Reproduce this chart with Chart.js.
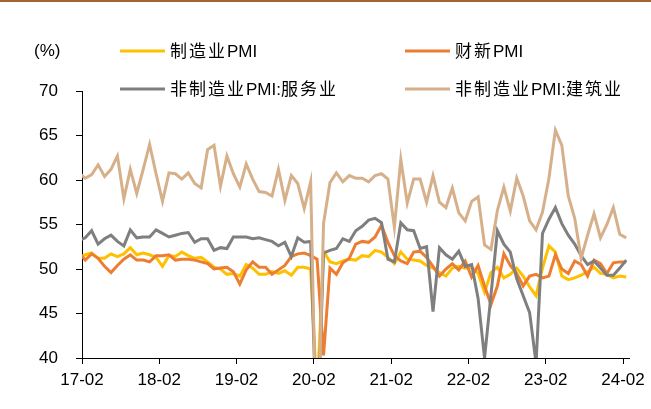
<!DOCTYPE html>
<html>
<head>
<meta charset="utf-8">
<script src="https://cdn.jsdelivr.net/npm/chart.js@4.4.1/dist/chart.umd.min.js"></script>
<style>
  html, body { margin: 0; padding: 0; background: #ffffff; }
  #wrap { position: relative; width: 651px; height: 409px; overflow: hidden; }
  #topRule { position: absolute; left: 0; top: 0; width: 651px; height: 2px; background: #A5642F; }
  canvas { position: absolute; left: 0; top: 0; }
</style>
</head>
<body>
<div id="wrap">
  <canvas id="c" width="651" height="409"></canvas>
  <div id="topRule"></div>
</div>
<script>
// Monthly readings, 2017-01 .. 2024-02 (86 months each)

// x-axis labels and their positions (months after 2017-02)
const tickLabels = ['17-02', '18-02', '19-02', '20-02', '21-02', '22-02', '23-02', '24-02'];
const tickMonths = [0, 12, 24, 36, 48, 60, 72, 84];

// 制造业PMI (NBS manufacturing)
const mfgPMI = [
  51.3, 51.6, 51.8, 51.2, 51.2, 51.7, 51.4, 51.7, 52.4, 51.6, 51.8, 51.6,
  51.3, 50.3, 51.5, 51.4, 51.9, 51.5, 51.2, 51.3, 50.8, 50.2, 50.0, 49.4,
  49.5, 49.2, 50.5, 50.1, 49.4, 49.4, 49.7, 49.5, 49.8, 49.3, 50.2, 50.2,
  50.0, 35.7, 52.0, 50.8, 50.6, 50.9, 51.1, 51.0, 51.5, 51.4, 52.1, 51.9,
  51.3, 50.6, 51.9, 51.1, 51.0, 50.9, 50.4, 50.1, 49.6, 49.2, 50.1, 50.3,
  50.1, 50.2, 49.5, 47.4, 49.6, 50.2, 49.0, 49.4, 50.1, 49.2, 48.0, 47.0,
  50.1, 52.6, 51.9, 49.2, 48.8, 49.0, 49.3, 49.7, 50.2, 49.5, 49.4, 49.0,
  49.2, 49.1
];

// 财新PMI — each reading sits on the month in which it was published
const caixinPMI = [
  51.9, 51.0, 51.7, 51.2, 50.3, 49.6, 50.4, 51.1, 51.6, 51.0, 51.0, 50.8,
  51.5, 51.5, 51.6, 51.0, 51.1, 51.1, 51.0, 50.8, 50.6, 50.0, 50.1, 50.2,
  49.7, 48.3, 49.9, 50.8, 50.2, 50.2, 49.4, 49.9, 50.4, 51.4, 51.7, 51.8,
  51.5, 51.1, 40.3, 50.1, 49.4, 50.7, 51.2, 52.8, 53.1, 53.0, 53.6, 54.9,
  53.0, 51.5, 50.9, 50.6, 51.9, 52.0, 51.3, 50.3, 49.2, 50.0, 50.6, 49.9,
  50.9, 49.1, 50.4, 48.1, 46.0, 48.1, 51.7, 50.4, 49.5, 48.1, 49.2, 49.4,
  49.0, 49.2, 51.6, 50.0, 49.5, 50.9, 50.5, 49.2, 51.0, 50.6, 49.5, 50.7,
  50.8, 50.8
];

// 非制造业PMI:服务业
const servicesPMI = [
  53.2, 53.5, 54.3, 52.8, 53.4, 53.8, 53.1, 52.6, 54.4, 53.5, 53.6, 53.6,
  54.4, 54.0, 53.6, 53.8, 54.0, 54.1, 53.0, 53.4, 53.4, 52.1, 52.4, 52.3,
  53.6, 53.6, 53.6, 53.4, 53.5, 53.3, 53.1, 52.6, 53.0, 51.4, 53.5, 53.0,
  53.1, 30.1, 51.8, 52.1, 52.3, 53.4, 53.1, 54.3, 54.8, 55.5, 55.7, 55.2,
  51.1, 50.8, 55.2, 54.4, 54.3, 52.3, 52.5, 45.2, 52.4, 51.6, 51.1, 52.0,
  50.3, 50.5, 46.7, 40.0, 47.1, 54.3, 52.8, 51.9, 48.9, 47.0, 45.1, 39.4,
  54.0, 55.6, 56.9, 55.1, 53.8, 52.8, 51.5, 50.5, 50.9, 50.1, 49.3, 49.3,
  50.1, 51.0
];

// 非制造业PMI:建筑业
const constructionPMI = [
  60.8, 60.2, 60.6, 61.7, 60.4, 61.2, 62.7, 57.9, 61.2, 58.5, 61.2, 64.0,
  60.7, 57.6, 60.8, 60.7, 60.1, 60.8, 59.6, 59.1, 63.4, 63.9, 59.3, 62.7,
  60.7, 59.2, 61.8, 60.1, 58.7, 58.6, 58.2, 61.2, 57.7, 60.5, 59.6, 56.8,
  59.8, 26.6, 55.1, 59.7, 60.8, 59.8, 60.5, 60.2, 60.2, 59.8, 60.5, 60.7,
  60.1, 54.7, 62.3, 57.4, 60.1, 60.1, 57.5, 60.5, 57.5, 56.9, 59.1, 56.3,
  55.4, 57.6, 58.1, 52.7, 52.2, 56.6, 59.2, 56.5, 60.2, 58.2, 55.4, 54.4,
  56.4, 60.2, 65.6, 63.9, 58.2, 55.7, 51.2, 53.8, 56.2, 53.5, 55.0, 56.9,
  53.9, 53.5
];

const seriesNames = ['制造业PMI', '财新PMI', '非制造业PMI:服务业', '非制造业PMI:建筑业'];
const seriesColors = ['#FFC000', '#ED7D31', '#7F7F7F', '#D6B08A'];

// Each month is plotted in the middle of its slot; slot 0 starts at 2017-02.
function toPoints(values) {
  return values.map((v, k) => ({ x: k - 1 + 0.5, y: v }));
}

const allSeries = [mfgPMI, caixinPMI, servicesPMI, constructionPMI];
const drawOrder = [4, 3, 2, 1];

const datasets = allSeries.map((vals, i) => ({
  label: seriesNames[i],
  data: toPoints(vals),
  borderColor: seriesColors[i],
  backgroundColor: seriesColors[i],
  borderWidth: 3,
  pointRadius: 0,
  tension: 0,
  clip: 0,
  order: drawOrder[i],
  borderJoinStyle: 'miter'
}));

const FONT = '"Liberation Sans", Arial, "Noto Sans CJK SC", sans-serif';

// Writes a label in runs: CJK characters get extra tracking, Latin text stays tight.
function drawMixedText(ctx, text, x, y) {
  const runs = text.match(/[\u3000-\u9fff]+|[^\u3000-\u9fff]+/g) || [];
  let cx = x;
  runs.forEach(run => {
    const isCJK = /[\u3000-\u9fff]/.test(run);
    ctx.letterSpacing = isCJK ? '2px' : '0px';
    ctx.fillText(run, cx, y);
    cx += ctx.measureText(run).width;
  });
  ctx.letterSpacing = '0px';
}

// Legend and unit label drawn above the plot
const legendPlugin = {
  id: 'legendBlock',
  afterDraw(chart) {
    const ctx = chart.ctx;
    ctx.save();
    ctx.fillStyle = '#000';
    ctx.textBaseline = 'middle';
    ctx.textAlign = 'left';
    ctx.font = '17px ' + FONT;
    ctx.fillText('(%)', 34, 51);
    const slots = [
      { lx: 120, ty: 51 }, { lx: 405, ty: 51 },
      { lx: 120, ty: 89 }, { lx: 405, ty: 89 }
    ];
    slots.forEach((s, i) => {
      ctx.strokeStyle = seriesColors[i];
      ctx.lineWidth = 3;
      ctx.beginPath();
      ctx.moveTo(s.lx, s.ty);
      ctx.lineTo(s.lx + 45, s.ty);
      ctx.stroke();
      ctx.fillStyle = '#000';
      drawMixedText(ctx, seriesNames[i], s.lx + 50, s.ty + 1);
    });
    ctx.restore();
  }
};

new Chart(document.getElementById('c'), {
  type: 'line',
  data: { datasets },
  options: {
    responsive: false,
    devicePixelRatio: 1,
    animation: false,
    layout: { padding: { left: 0, top: 91, right: 21, bottom: 0 } },
    plugins: { legend: { display: false }, tooltip: { enabled: false } },
    scales: {
      x: {
        type: 'linear',
        min: 0,
        max: 85,
        afterBuildTicks(scale) {
          scale.ticks = tickMonths.map(v => ({ value: v }));
        },
        afterFit(scale) { scale.height = 51; },
        ticks: {
          autoSkip: false,
          maxRotation: 0,
          padding: 6,
          color: '#000',
          font: { family: FONT, size: 17 },
          callback(value) {
            const idx = tickMonths.indexOf(value);
            return idx >= 0 ? tickLabels[idx] : '';
          }
        },
        grid: { drawOnChartArea: false, drawTicks: true, tickLength: 6, color: '#000', lineWidth: 1 },
        border: { display: true, color: '#000', width: 1 }
      },
      y: {
        min: 40,
        max: 70,
        afterFit(scale) { scale.width = 82; },
        ticks: {
          stepSize: 5,
          padding: 18,
          color: '#000',
          font: { family: FONT, size: 17 }
        },
        grid: { drawOnChartArea: false, drawTicks: true, tickLength: 6, color: '#000', lineWidth: 1 },
        border: { display: true, color: '#000', width: 1 }
      }
    }
  },
  plugins: [legendPlugin]
});
</script>
</body>
</html>
